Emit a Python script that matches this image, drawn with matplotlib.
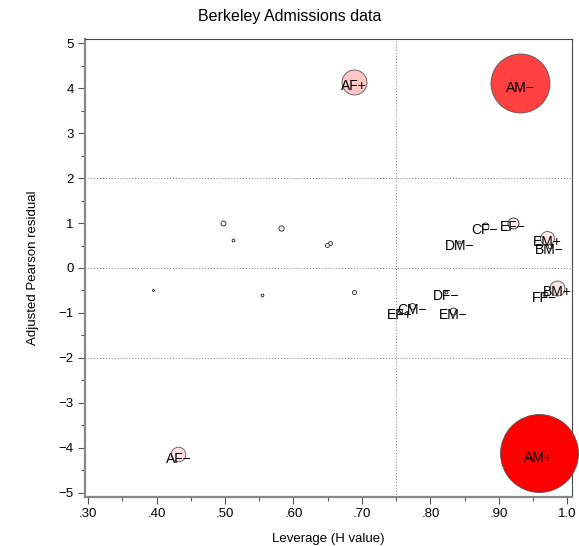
import numpy as np
import matplotlib
matplotlib.use("Agg")
import matplotlib.pyplot as plt
from matplotlib.ticker import MultipleLocator, FixedLocator

# Leverage, adjusted Pearson residual and influence for each cell
labels = ["AM+", "AM−", "AF+", "AF−", "BM+", "EM+", "EF−", "EM−", "CF−",
          "CM−", "FF−", "BM−", "EF+", "DM−", "DF−"]
leverage = [0.958, 0.931, 0.688, 0.432, 0.985, 0.970, 0.920, 0.833, 0.879,
            0.773, 0.967, 0.974, 0.7555, 0.842, 0.823]
residual = [-4.13, 4.11, 4.15, -4.15, -0.45, 0.67, 1.00, -0.96, 0.93,
            -0.85, -0.57, 0.50, -0.95, 0.58, -0.53]
influence = [15.2, 8.7, 1.56, 0.53, 0.56, 0.49, 0.30, 0.12, 0.12,
             0.09, 0.06, 0.06, 0.04, 0.02, 0.02]

# Remaining cells (not labelled)
other_leverage = [0.4976, 0.512, 0.582, 0.649, 0.653, 0.395, 0.554, 0.688]
other_residual = [1.007, 0.628, 0.88, 0.517, 0.561, -0.486, -0.606, -0.539]
other_influence = [0.06, 0.02, 0.07, 0.04, 0.04, 0.01, 0.02, 0.04]

xticks = [0.30, 0.40, 0.50, 0.60, 0.70, 0.80, 0.90, 1.00]
xticklabels = [".30", ".40", ".50", ".60", ".70", ".80", ".90", "1.0"]

plt.rcParams["font.family"] = ["Liberation Sans", "DejaVu Sans"]

fig = plt.figure(figsize=(5.79, 5.46), dpi=100)
ax = fig.add_axes([85 / 579, 1 - 497 / 546, 487 / 579, 458 / 546])

vmax = max(influence)


def fill_colour(v):
    t = min(1.0, 1.1 * (v / vmax) ** 0.7)
    return (1.0, 1.0 - t, 1.0 - t)


all_x = list(leverage) + other_leverage
all_y = list(residual) + other_residual
all_v = list(influence) + other_influence
order = np.argsort(all_v)[::-1]
for i in order:
    edge = "#555555" if all_v[i] > 0.4 else "#222222"
    ax.scatter(all_x[i], all_y[i], s=207 * all_v[i], color=fill_colour(all_v[i]),
               edgecolors=edge, linewidths=0.6, zorder=3, clip_on=False)

for lab, x, y in zip(labels, leverage, residual):
    ax.annotate(lab, (x, y), xytext=(0, -3), textcoords="offset points",
                ha="center", va="center", fontsize=10, color="black", zorder=5,
                annotation_clip=False)

# reference lines
for yv in (-2, 0, 2):
    ax.axhline(yv, color="#777777", lw=0.7, ls=(0, (1, 2)), zorder=1)
ax.axvline(0.75, color="#777777", lw=0.7, ls=(0, (1, 2)), zorder=1)

ax.set_xlim(0.2956, 1.0066)
ax.set_ylim(-5.1, 5.1)
ax.xaxis.set_major_locator(FixedLocator(xticks))
ax.set_xticklabels(xticklabels)
ax.xaxis.set_minor_locator(MultipleLocator(0.05))
ax.yaxis.set_major_locator(MultipleLocator(1))
ax.yaxis.set_minor_locator(MultipleLocator(0.5))
ax.tick_params(axis="both", which="major", length=5, width=0.8, color="#555555",
               labelsize=9.5, pad=3)
ax.tick_params(axis="both", which="minor", length=3, width=0.8, color="#555555")

for side in ("left", "bottom"):
    ax.spines[side].set_color("#888888")
    ax.spines[side].set_linewidth(1.6)
for side in ("top", "right"):
    ax.spines[side].set_color("#444444")
    ax.spines[side].set_linewidth(0.8)

ax.set_xlabel("Leverage (H value)", fontsize=9.5, labelpad=9)
ax.set_ylabel("Adjusted Pearson residual", fontsize=9.5, labelpad=14)
fig.text(0.5, 1 - 17 / 546, "Berkeley Admissions data", ha="center", va="center",
         fontsize=11.5)

fig.savefig("out.png", dpi=100)
